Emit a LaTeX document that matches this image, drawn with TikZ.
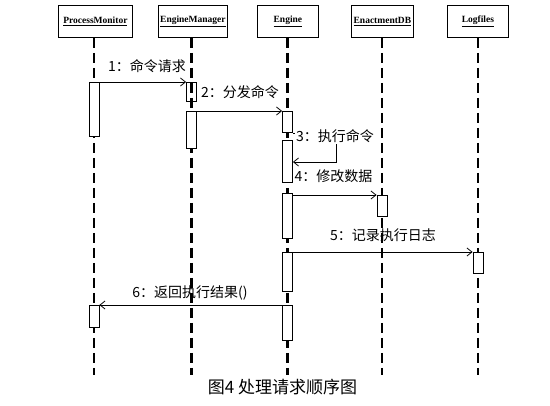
\documentclass[tikz,border=0pt]{standalone}
\usepackage{fontspec}
\newfontfamily\cjk{Noto Sans CJK SC}
\newfontfamily\hdrfont{Liberation Serif}
\usetikzlibrary{arrows.meta}
\begin{document}
\begin{tikzpicture}[x=1pt,y=-1pt,
  objbox/.style={draw,line width=0.8pt,minimum width=#1,minimum height=32pt,
    inner sep=0pt,anchor=north west,font=\hdrfont\bfseries\fontsize{9.5}{11}\selectfont},
  lifeline/.style={line width=2.8pt,dash pattern=on 10pt off 5pt},
  act/.style={draw,fill=white,line width=0.8pt,minimum width=10pt,minimum height=#1,
    inner sep=0pt,anchor=north},
  msg/.style={line width=0.8pt,-{Straight Barb[length=5pt,width=8pt]}},
  lbl/.style={font=\cjk\fontsize{14}{16}\selectfont,inner sep=1pt},
]
\useasboundingbox[fill=white] (0,0) rectangle (550,406);

% object headers
\node[objbox=74pt] (pm) at (58,5)  {\underline{ProcessMonitor}};
\node[objbox=69pt] (em) at (158,5) {\underline{EngineManager}};
\node[objbox=61pt] (en) at (257,5) {\underline{Engine}};
\node[objbox=62pt] (db) at (351,5) {\underline{EnactmentDB}};
\node[objbox=61pt] (lg) at (447,5) {\underline{Logfiles}};

% lifeline ends
\coordinate (pmEnd) at (94,375);
\coordinate (emEnd) at (191.5,375);
\coordinate (enEnd) at (287.5,375);
\coordinate (dbEnd) at (382,375);
\coordinate (lgEnd) at (478,375);

\draw[lifeline] (pm.south -| pmEnd) -- (pmEnd);
\draw[lifeline] (em.south -| emEnd) -- (emEnd);
\draw[lifeline] (en.south -| enEnd) -- (enEnd);
\draw[lifeline] (db.south -| dbEnd) -- (dbEnd);
\draw[lifeline] (lg.south -| lgEnd) -- (lgEnd);

% activations
\node[act=54pt] (pmA1) at (94,82) {};
\node[act=19pt,fill=none] (emA1) at (191.5,82) {};
\node[act=37pt] (emA2) at (191.5,111) {};
\node[act=21pt] (enA1) at (287.5,111) {};
\node[act=42pt] (enA2) at (287.5,140) {};
\node[act=45pt] (enA3) at (287.5,193) {};
\node[act=21pt] (dbA1) at (382,195) {};
\node[act=39pt] (enA4) at (287.5,252) {};
\node[act=21pt] (lgA1) at (478,252) {};
\node[act=35pt] (enA5) at (287.5,305) {};
\node[act=22pt] (pmA2) at (94,305) {};

% messages
\draw[msg] (pmA1.north east) -- (emA1.north west);
\draw[msg] (emA2.north east) -- (enA1.north west);
\coordinate (s3) at (336,162);
\draw[msg] ([yshift=-1pt]enA1.south east) -| (s3) -- (s3 -| enA2.east);
\draw[msg] (enA3.north east |- dbA1.north) -- (dbA1.north west);
\draw[msg] (enA4.north east) -- (lgA1.north west);
\draw[msg] (enA5.north west) -- (pmA2.north east);

% labels
\node[lbl] (l1) at (147,66) {1：命令请求};
\node[lbl] (l2) at (240,92) {2：分发命令};
\node[lbl,fill=white] (l3) at (335,136) {3：执行命令};
\node[lbl] (l4) at (333.5,176) {4：修改数据};
\node[lbl] (l5) at (383,235) {5：记录执行日志};
\node[lbl] (l6) at (190,293) {6：返回执行结果()};

\node[font=\cjk\fontsize{17}{19}\selectfont,inner sep=0pt] (cap) at (282.5,387) {图4\hspace{4pt}处理请求顺序图};
\end{tikzpicture}
\end{document}
